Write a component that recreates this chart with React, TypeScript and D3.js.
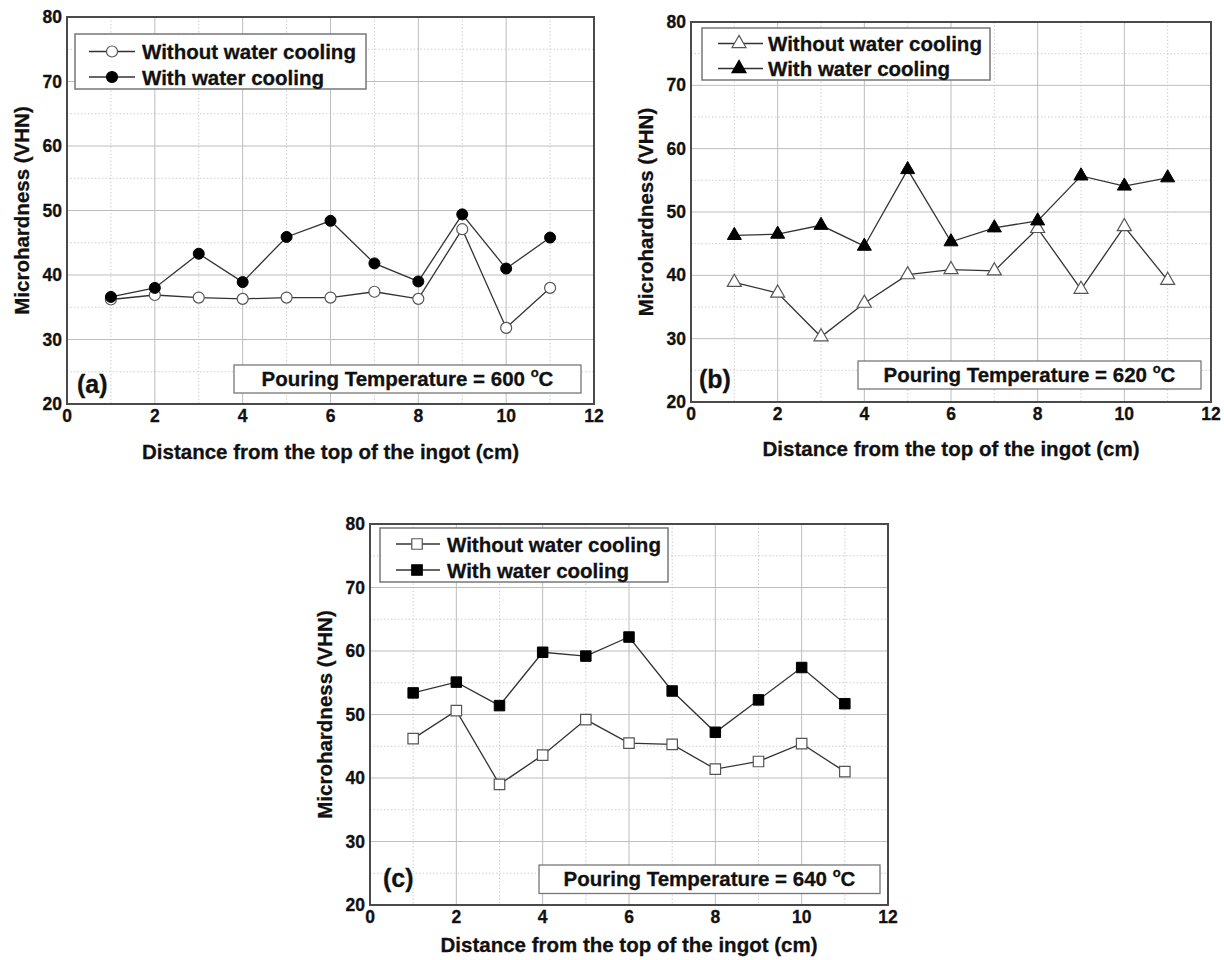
import React from 'react';
import * as d3 from 'd3';

// ---------- data ----------
const distances = [1, 2, 3, 4, 5, 6, 7, 8, 9, 10, 11];
const withoutA = [36.2, 36.9, 36.5, 36.3, 36.5, 36.5, 37.4, 36.3, 47.1, 31.8, 38.0];
const withA = [36.6, 38.0, 43.3, 38.9, 45.9, 48.4, 41.8, 39.0, 49.4, 41.0, 45.8];
const withoutB = [38.9, 37.2, 30.3, 35.6, 40.1, 40.9, 40.7, 47.4, 37.8, 47.7, 39.2];
const withB = [46.3, 46.5, 47.9, 44.6, 56.7, 45.3, 47.5, 48.6, 55.7, 54.1, 55.4];
const withoutC = [46.2, 50.6, 39.0, 43.6, 49.2, 45.5, 45.3, 41.4, 42.6, 45.4, 41.0];
const withC = [53.4, 55.1, 51.4, 59.8, 59.2, 62.2, 53.7, 47.2, 52.3, 57.4, 51.7];
const xTicks = [0, 2, 4, 6, 8, 10, 12];
const yTicks = [20, 30, 40, 50, 60, 70, 80];
const xMinor = [1, 3, 5, 7, 9, 11];
const yMinor = [25, 35, 45, 55, 65, 75];
const seriesNames = ['Without water cooling', 'With water cooling'];
const pouringTemps = [600, 620, 640];
const panelLabels = ['(a)', '(b)', '(c)'];
const xTitle = 'Distance from the top of the ingot (cm)';
const yTitle = 'Microhardness (VHN)';

const FONT = "'Liberation Sans', Arial, Helvetica, sans-serif";
const TXT = { fontFamily: FONT, fontWeight: 'bold' as const, fill: '#111', stroke: '#111', strokeWidth: 0.3 };

type Cfg = {
  frame: { x: number; y: number; w: number; h: number };
  without: number[];
  withW: number[];
  symbol: d3.SymbolType;
  symSize: number;
  legend: { x: number; y: number; w: number; h: number; rows: number[]; l1: number; l2: number; mx: number; tx: number };
  note: { x: number; y: number; w: number; h: number };
  label: { x: number; y: number };
  xTitleGap: number;
  temp: number;
  name: string;
};

const panels: Cfg[] = [
  {
    frame: { x: 67, y: 17, w: 527, h: 387 },
    without: withoutA, withW: withA, symbol: d3.symbolCircle, symSize: 95,
    legend: { x: 75, y: 34, w: 291, h: 55, rows: [51.5, 77], l1: 89, l2: 135, mx: 112, tx: 142 },
    note: { x: 234, y: 365, w: 347, h: 28 },
    label: { x: 77, y: 384 },
    xTitleGap: 47,
    temp: pouringTemps[0], name: panelLabels[0],
  },
  {
    frame: { x: 691, y: 22, w: 520, h: 380 },
    without: withoutB, withW: withB, symbol: d3.symbolTriangle, symSize: 85,
    legend: { x: 702, y: 28, w: 288, h: 52, rows: [43.5, 68.5], l1: 718, l2: 763, mx: 739, tx: 768 },
    note: { x: 858, y: 361, w: 343, h: 28 },
    label: { x: 699, y: 379 },
    xTitleGap: 46,
    temp: pouringTemps[1], name: panelLabels[1],
  },
  {
    frame: { x: 370, y: 524, w: 518, h: 381 },
    without: withoutC, withW: withC, symbol: d3.symbolSquare, symSize: 110,
    legend: { x: 380, y: 528, w: 288, h: 54, rows: [544, 570], l1: 396, l2: 440, mx: 417, tx: 447 },
    note: { x: 539, y: 865, w: 341, h: 28.5 },
    label: { x: 383, y: 878 },
    xTitleGap: 39,
    temp: pouringTemps[2], name: panelLabels[2],
  },
];

function Panel({ c }: { c: Cfg }) {
  const { frame } = c;
  const x = d3.scaleLinear().domain([0, 12]).range([frame.x, frame.x + frame.w]);
  const y = d3.scaleLinear().domain([20, 80]).range([frame.y + frame.h, frame.y]);
  const line = d3
    .line<number>()
    .x((_, i) => x(distances[i]))
    .y((d) => y(d));
  const sym = d3.symbol().type(c.symbol).size(c.symSize)() as string;
  const bottom = frame.y + frame.h;

  return (
    <g>
      <rect x={frame.x} y={frame.y} width={frame.w} height={frame.h} fill="#fff" />
      {/* minor grid */}
      {xMinor.map((v) => (
        <line key={'xm' + v} x1={x(v)} x2={x(v)} y1={frame.y} y2={bottom} stroke="#cfcfcf" strokeWidth={1} strokeDasharray="1.5,2" />
      ))}
      {yMinor.map((v) => (
        <line key={'ym' + v} x1={frame.x} x2={frame.x + frame.w} y1={y(v)} y2={y(v)} stroke="#cfcfcf" strokeWidth={1} strokeDasharray="1.5,2" />
      ))}
      {/* major grid */}
      {xTicks.slice(1, -1).map((v) => (
        <line key={'xg' + v} x1={x(v)} x2={x(v)} y1={frame.y} y2={bottom} stroke="#bdbdbd" strokeWidth={1} />
      ))}
      {yTicks.slice(1, -1).map((v) => (
        <line key={'yg' + v} x1={frame.x} x2={frame.x + frame.w} y1={y(v)} y2={y(v)} stroke="#bdbdbd" strokeWidth={1} />
      ))}
      {/* frame */}
      <rect x={frame.x} y={frame.y} width={frame.w} height={frame.h} fill="none" stroke="#4a4a4a" strokeWidth={2} />

      {/* tick labels */}
      {xTicks.map((v) => (
        <text key={'xt' + v} x={x(v)} y={bottom + 18} textAnchor="middle" fontSize={17.5} {...TXT}>
          {v}
        </text>
      ))}
      {yTicks.map((v) => (
        <text key={'yt' + v} x={frame.x - 5} y={y(v) + 6} textAnchor="end" fontSize={17.5} {...TXT}>
          {v}
        </text>
      ))}

      {/* axis titles */}
      <text x={x(6)} y={bottom + c.xTitleGap} textAnchor="middle" dominantBaseline="central" fontSize={20.5} {...TXT}>
        {xTitle}
      </text>
      <text
        transform={`translate(${frame.x - 46},${y(50)}) rotate(-90)`}
        textAnchor="middle"
        dominantBaseline="central"
        fontSize={20.5}
        {...TXT}
      >
        {yTitle}
      </text>

      {/* series */}
      <path d={line(c.without) as string} fill="none" stroke="#333" strokeWidth={1.3} />
      <path d={line(c.withW) as string} fill="none" stroke="#333" strokeWidth={1.3} />
      {c.without.map((v, i) => (
        <path key={'o' + i} d={sym} transform={`translate(${x(distances[i])},${y(v)})`} fill="#fff" stroke="#555" strokeWidth={1.2} />
      ))}
      {c.withW.map((v, i) => (
        <path key={'f' + i} d={sym} transform={`translate(${x(distances[i])},${y(v)})`} fill="#000" stroke="#000" strokeWidth={1} />
      ))}

      {/* legend */}
      <rect x={c.legend.x} y={c.legend.y} width={c.legend.w} height={c.legend.h} fill="#fff" stroke="#777" strokeWidth={1.5} />
      {seriesNames.map((n, i) => (
        <g key={n}>
          <line x1={c.legend.l1} x2={c.legend.l2} y1={c.legend.rows[i]} y2={c.legend.rows[i]} stroke="#333" strokeWidth={1.3} />
          <path
            d={sym}
            transform={`translate(${c.legend.mx},${c.legend.rows[i]})`}
            fill={i === 0 ? '#fff' : '#000'}
            stroke={i === 0 ? '#555' : '#000'}
            strokeWidth={1.2}
          />
          <text x={c.legend.tx} y={c.legend.rows[i]} dominantBaseline="central" fontSize={20.5} {...TXT}>
            {n}
          </text>
        </g>
      ))}

      {/* annotation */}
      <rect x={c.note.x} y={c.note.y} width={c.note.w} height={c.note.h} fill="#fff" stroke="#777" strokeWidth={1.3} />
      <text x={c.note.x + c.note.w / 2} y={c.note.y + c.note.h / 2 + 7} textAnchor="middle" fontSize={20.5} {...TXT}>
        {`Pouring Temperature = ${c.temp} `}
        <tspan fontSize={13} dy={-9}>o</tspan>
        <tspan dy={9}>C</tspan>
      </text>

      {/* panel label */}
      <text x={c.label.x} y={c.label.y} dominantBaseline="central" fontSize={25} {...TXT}>
        {c.name}
      </text>
    </g>
  );
}

export default function App() {
  return (
    <svg width={1224} height={960} style={{ position: 'absolute', left: 0, top: 0, background: '#fff' }}>
      <rect x={0} y={0} width={1224} height={960} fill="#fff" />
      {panels.map((p) => (
        <Panel key={p.name} c={p} />
      ))}
    </svg>
  );
}
